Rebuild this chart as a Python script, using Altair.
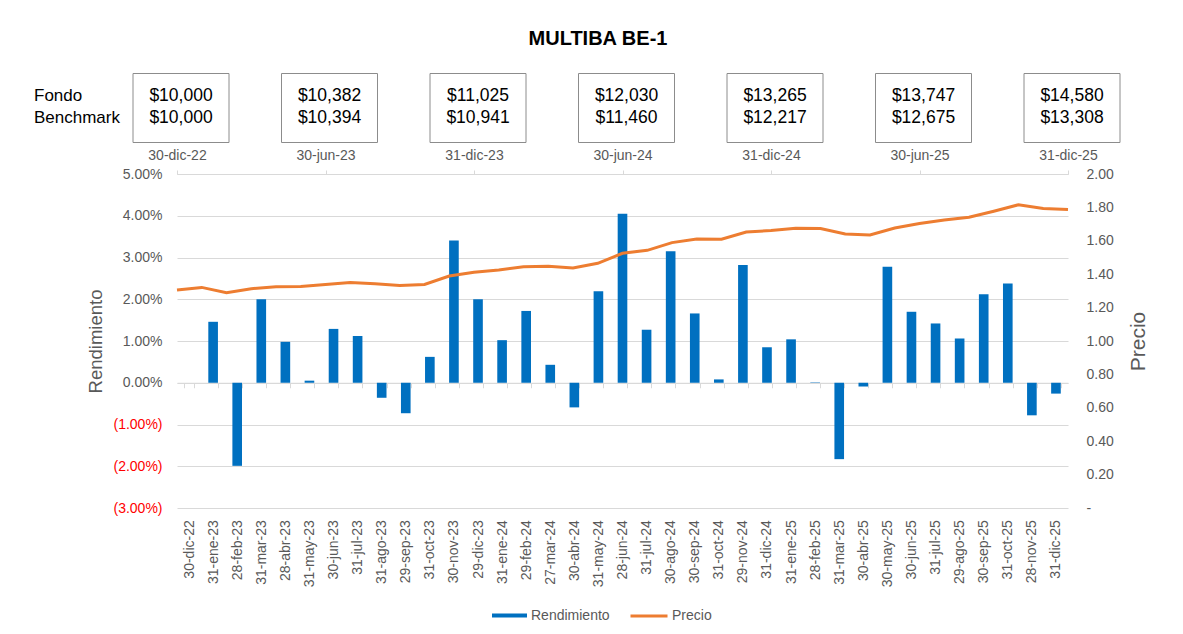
import altair as alt
import pandas as pd

# ---------------- data ----------------
fechas = [
    "30-dic-22", "31-ene-23", "28-feb-23", "31-mar-23", "28-abr-23", "31-may-23",
    "30-jun-23", "31-jul-23", "31-ago-23", "29-sep-23", "31-oct-23", "30-nov-23",
    "29-dic-23", "31-ene-24", "29-feb-24", "27-mar-24", "30-abr-24", "31-may-24",
    "28-jun-24", "31-jul-24", "30-ago-24", "30-sep-24", "31-oct-24", "29-nov-24",
    "31-dic-24", "31-ene-25", "28-feb-25", "31-mar-25", "30-abr-25", "30-may-25",
    "30-jun-25", "31-jul-25", "29-ago-25", "30-sep-25", "31-oct-25", "28-nov-25",
    "31-dic-25",
]
rendimiento = [
    0.00, 1.46, -1.99, 2.00, 0.98, 0.05, 1.29, 1.12, -0.36, -0.73, 0.62, 3.41,
    2.00, 1.02, 1.72, 0.43, -0.59, 2.19, 4.05, 1.27, 3.15, 1.66, 0.08, 2.82,
    0.85, 1.04, 0.01, -1.83, -0.09, 2.78, 1.70, 1.42, 1.06, 2.12, 2.38, -0.78,
    -0.26,
]
precio = [
    1.305, 1.321, 1.289, 1.313, 1.325, 1.327, 1.339, 1.351, 1.343, 1.333, 1.339, 1.389,
    1.411, 1.425, 1.445, 1.447, 1.437, 1.465, 1.525, 1.543, 1.589, 1.611, 1.609, 1.653,
    1.661, 1.675, 1.673, 1.641, 1.635, 1.677, 1.703, 1.725, 1.741, 1.777, 1.816, 1.794,
    1.787,
]
box_idx = [0, 6, 12, 18, 24, 30, 36]
box_fechas = ["30-dic-22", "30-jun-23", "31-dic-23", "30-jun-24", "31-dic-24", "30-jun-25", "31-dic-25"]
fondo = [10000, 10382, 11025, 12030, 13265, 13747, 14580]
benchmark = [10000, 10394, 10941, 11460, 12217, 12675, 13308]
row_labels = ["Fondo", "Benchmark"]
title_text = "MULTIBA BE-1"

left_ticks = [-3, -2, -1, 0, 1, 2, 3, 4, 5]
right_ticks = [0.0, 0.2, 0.4, 0.6, 0.8, 1.0, 1.2, 1.4, 1.6, 1.8, 2.0]

# ---------------- style ----------------
W, H = 891, 334
FONT = "Liberation Sans"
GRAY = "#595959"
GRID = "#D9D9D9"
BLUE = "#0070C0"
ORANGE = "#ED7D31"
zero_y = H * 5 / 8
BOX_DX = 4

bars_df = pd.DataFrame({"fecha": fechas, "Rendimiento": rendimiento, "serie": "Rendimiento"})
line_df = pd.DataFrame({"idx": list(range(len(fechas))), "fecha": fechas, "Precio": precio, "serie": "Precio"})
box_df = pd.DataFrame({"idx": box_idx, "fecha": box_fechas, "fondo": fondo, "benchmark": benchmark})

left_expr = ("datum.value < 0 ? '(' + format(-datum.value, '.2f') + '%)' "
             ": format(datum.value, '.2f') + '%'")
right_expr = "datum.value == 0 ? '-' : format(datum.value, '.2f')"
top_expr = ("[" + ",".join("'%s'" % d for d in box_fechas) + "][indexof(["
            + ",".join(str(i) for i in box_idx) + "], datum.value)]")

bars = alt.Chart(bars_df).mark_bar().encode(
    x=alt.X(
        "fecha:N", sort=fechas,
        scale=alt.Scale(paddingInner=0.6, paddingOuter=0.3),
        axis=alt.Axis(
            title=None, orient="bottom", offset=-(H - zero_y),
            labelAngle=270, labelPadding=132, labelFontSize=14, labelColor=GRAY,
            tickBand="extent", ticks=True, tickSize=5, tickColor=GRID,
            domainColor=GRID, grid=False, labelOverlap=False,
        ),
    ),
    y=alt.Y(
        "Rendimiento:Q",
        scale=alt.Scale(domain=[-3, 5], nice=False, zero=False),
        axis=alt.Axis(
            values=left_ticks, labelExpr=left_expr,
            labelColor={"condition": {"test": "datum.value < 0", "value": "#FF0000"}, "value": GRAY},
            grid=True, gridColor=GRID, domain=False, ticks=False, labelPadding=15,
            labelFontSize=14, title="Rendimiento", titleFontSize=18.5,
            titleFontWeight="normal", titleColor=GRAY, titleX=-82, titleY=H / 2,
            titleAngle=270, titleAlign="center", titleBaseline="middle",
        ),
    ),
    color=alt.Color(
        "serie:N",
        scale=alt.Scale(domain=["Rendimiento"], range=[BLUE]),
        legend=alt.Legend(
            title=None, orient="none", legendX=315, legendY=424, direction="horizontal",
            symbolType="M-1,-0.12L1,-0.12L1,0.12L-1,0.12Z", symbolSize=1225,
            symbolStrokeWidth=0, labelFontSize=14, labelColor=GRAY, labelOffset=4,
            padding=0, symbolOpacity=1,
        ),
    ),
)

line = alt.Chart(line_df).mark_line(strokeWidth=3).encode(
    x=alt.X(
        "idx:Q",
        scale=alt.Scale(domain=[0, 36], nice=False, zero=False),
        axis=alt.Axis(
            orient="top", values=box_idx, labelExpr=top_expr, title=None, grid=False,
            tickSize=4, tickColor=GRID, domainColor=GRID, labelFontSize=14,
            labelColor=GRAY, labelPadding=8, labelFlush=False, labelOverlap=False,
        ),
    ),
    y=alt.Y(
        "Precio:Q",
        scale=alt.Scale(domain=[0, 2], nice=False, zero=False),
        axis=alt.Axis(
            orient="right", values=right_ticks, labelExpr=right_expr, grid=False,
            ticks=False, domain=False, labelPadding=18, labelFontSize=14,
            labelColor=GRAY, title="Precio", titleFontSize=21, titleFontWeight="normal",
            titleColor=GRAY, titleX=70, titleY=H / 2, titleAngle=270,
            titleAlign="center", titleBaseline="middle",
        ),
    ),
    stroke=alt.Stroke(
        "serie:N",
        scale=alt.Scale(domain=["Precio"], range=[ORANGE]),
        legend=alt.Legend(
            title=None, orient="none", legendX=452, legendY=422, direction="horizontal",
            symbolType="stroke", symbolSize=1369, symbolStrokeWidth=3,
            labelFontSize=14, labelColor=GRAY, labelOffset=3, padding=0,
        ),
    ),
)

RECT_PATH = "M-1,-0.71875L1,-0.71875L1,0.71875L-1,0.71875Z"
box_rect = alt.Chart(box_df).mark_point(
    shape=RECT_PATH, size=96 * 96, filled=False, stroke="#8C8C8C", strokeWidth=1,
    opacity=1, xOffset=BOX_DX,
).encode(x="idx:Q", y=alt.value(-66))

fondo_txt = alt.Chart(box_df).mark_text(
    fontSize=17.5, color="black", baseline="middle", xOffset=BOX_DX
).encode(x="idx:Q", y=alt.value(-78), text=alt.Text("fondo:Q", format="$,.0f"))
bench_txt = alt.Chart(box_df).mark_text(
    fontSize=17.5, color="black", baseline="middle", xOffset=BOX_DX
).encode(x="idx:Q", y=alt.value(-55.7), text=alt.Text("benchmark:Q", format="$,.0f"))

row1 = alt.Chart(pd.DataFrame({"t": [row_labels[0]]})).mark_text(
    fontSize=17, color="black", align="left", baseline="middle"
).encode(x=alt.value(-143), y=alt.value(-78), text="t:N")
row2 = alt.Chart(pd.DataFrame({"t": [row_labels[1]]})).mark_text(
    fontSize=17, color="black", align="left", baseline="middle"
).encode(x=alt.value(-143), y=alt.value(-55.7), text="t:N")

title = alt.Chart(pd.DataFrame({"t": [title_text]})).mark_text(
    fontSize=20, fontWeight="bold", color="black", baseline="middle"
).encode(x=alt.value(421), y=alt.value(-135), text="t:N")

inner = alt.layer(line, box_rect, fondo_txt, bench_txt, row1, row2, title)

chart = alt.layer(bars, inner).resolve_scale(
    x="independent", y="independent"
).properties(
    width=W, height=H,
    autosize=alt.AutoSizeParams(type="none"),
    padding={"left": 169, "top": 166, "right": 107, "bottom": 118},
).configure(font=FONT).configure_view(stroke=None)

chart.save("out.html", embed_options={"renderer": "svg", "actions": False})
